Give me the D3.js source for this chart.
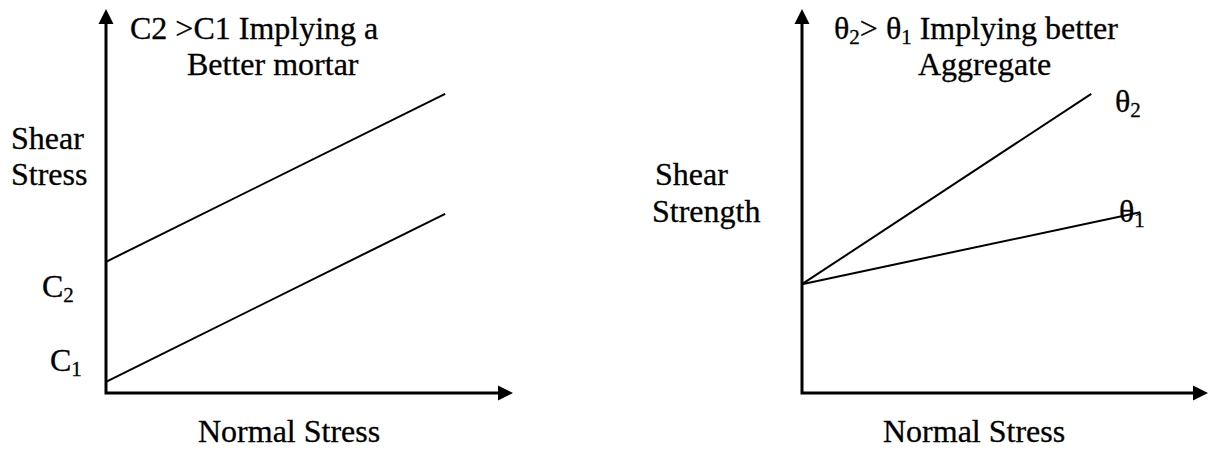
<!DOCTYPE html>
<html>
<head>
<meta charset="utf-8">
<script src="https://cdn.jsdelivr.net/npm/d3@7"></script>
<style>
  body { margin: 0; background: #fff; }
  text { font-family: "Liberation Serif", "Times New Roman", serif; font-size: 32px; fill: #000; stroke: #000; stroke-width: 0.3px; }
</style>
</head>
<body>
<svg width="1208" height="450"></svg>
<script>
var svg = d3.select('svg')

// normal stress runs 0..12, shear 0..12 (arbitrary units, schematic)
var mortarLines = [
  { name: 'C1', sub: '1', points: [[0, 0.35], [10, 5.6]] },
  { name: 'C2', sub: '2', points: [[0, 4.1], [10, 9.35]] }
]
var aggregateLines = [
  { name: 'θ', sub: '2', points: [[0, 3.4], [8.55, 9.35]] },
  { name: 'θ', sub: '1', points: [[0, 3.4], [10, 5.65]] }
]
var xLabel = 'Normal Stress'
var leftYLabel = ['Shear', 'Stress']
var rightYLabel = ['Shear', 'Strength']

var y = d3.scaleLinear().domain([0, 12]).range([393, 9])
var xLeft = d3.scaleLinear().domain([0, 12]).range([106, 513])
var xRight = d3.scaleLinear().domain([0, 12]).range([802, 1208])

var line = function (x) {
  return d3.line()
    .x(function (d) { return x(d[0]) })
    .y(function (d) { return y(d[1]) })
}

function axes (g, x) {
  var x0 = x(0), y0 = y(0), x1 = x(12), y1 = y(12)
  g.append('path')
    .attr('d', 'M' + x0 + ',' + (y1 + 12) + 'V' + y0 + 'H' + (x1 - 12))
    .style('fill', 'none')
    .style('stroke', '#000')
    .style('stroke-width', 3)
  g.append('path')
    .attr('d', 'M' + x0 + ',' + y1 + 'l-7.5,15h15z')
  g.append('path')
    .attr('d', 'M' + x1 + ',' + y0 + 'l-15,-7.5v15z')
}

function subText (g, x, yy, main, sub) {
  var t = g.append('text').attr('x', x).attr('y', yy)
  t.append('tspan').text(main)
  t.append('tspan').attr('dy', 5).style('font-size', '21px').text(sub)
  return t
}

// left panel
var left = svg.append('g')
axes(left, xLeft)
left.selectAll('.data')
  .data(mortarLines)
  .enter()
  .append('path')
  .attr('d', function (d) { return line(xLeft)(d.points) })
  .style('fill', 'none')
  .style('stroke', '#000')
  .style('stroke-width', 2)

subText(left, 42, y(mortarLines[1].points[0][1]) + 35, 'C', mortarLines[1].sub)
subText(left, 50, y(mortarLines[0].points[0][1]) - 11, 'C', mortarLines[0].sub)

left.append('text').attr('x', 130).attr('y', 39).text('C2 >C1 Implying a')
left.append('text').attr('x', 187).attr('y', 75).text('Better mortar')
left.append('text').attr('x', 11).attr('y', 149).text(leftYLabel[0])
left.append('text').attr('x', 11).attr('y', 185).text(leftYLabel[1])
left.append('text').attr('x', 198).attr('y', 442).text(xLabel)

// right panel
var right = svg.append('g')
axes(right, xRight)
right.selectAll('.data')
  .data(aggregateLines)
  .enter()
  .append('path')
  .attr('d', function (d) { return line(xRight)(d.points) })
  .style('fill', 'none')
  .style('stroke', '#000')
  .style('stroke-width', 2)

subText(right, 1115, 112, aggregateLines[0].name, aggregateLines[0].sub)
subText(right, 1119, 222, aggregateLines[1].name, aggregateLines[1].sub)

var title = right.append('text').attr('x', 834).attr('y', 39)
title.append('tspan').text('θ')
title.append('tspan').attr('dy', 5).style('font-size', '21px').text('2')
title.append('tspan').attr('dy', -5).text('> θ')
title.append('tspan').attr('dy', 5).style('font-size', '21px').text('1')
title.append('tspan').attr('dy', -5).text(' Implying better')
right.append('text').attr('x', 918).attr('y', 75).text('Aggregate')
right.append('text').attr('x', 655).attr('y', 185).text(rightYLabel[0])
right.append('text').attr('x', 652).attr('y', 222).text(rightYLabel[1])
right.append('text').attr('x', 883).attr('y', 442).text(xLabel)
</script>
</body>
</html>
